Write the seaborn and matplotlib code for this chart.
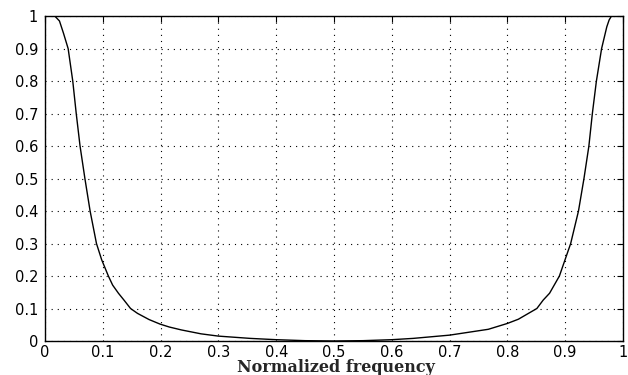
import matplotlib
matplotlib.use('Agg')
import matplotlib.pyplot as plt
import matplotlib.ticker as mticker
import pandas as pd
import seaborn as sns

# 读自参考图的曲线采样点
freq = [0.0, 0.017, 0.025, 0.032, 0.040, 0.048, 0.054, 0.0606, 0.069, 0.078,
        0.089, 0.098, 0.1096, 0.117, 0.127, 0.137, 0.148, 0.16, 0.18, 0.199,
        0.215, 0.236, 0.27, 0.30, 0.355, 0.40, 0.45, 0.5, 0.55, 0.60,
        0.637, 0.70, 0.767, 0.80, 0.819, 0.851, 0.862, 0.873, 0.89, 0.9095,
        0.923, 0.9325, 0.941, 0.947, 0.954, 0.963, 0.972, 0.976, 0.980, 1.0]
response = [1.0, 1.0, 0.985, 0.947, 0.9, 0.8, 0.7, 0.6, 0.5, 0.4,
            0.3, 0.25, 0.2, 0.172, 0.147, 0.125, 0.1, 0.085, 0.066, 0.052,
            0.043, 0.034, 0.022, 0.015, 0.008, 0.004, 0.001, 0.0, 0.001, 0.004,
            0.008, 0.018, 0.036, 0.054, 0.067, 0.10, 0.126, 0.147, 0.2, 0.3,
            0.4, 0.5, 0.6, 0.7, 0.8, 0.9, 0.967, 0.988, 1.0, 1.0]
tick_vals = [0, 0.1, 0.2, 0.3, 0.4, 0.5, 0.6, 0.7, 0.8, 0.9, 1]
x_label = 'Normalized frequency'

sns.set_style('white')
plt.rcParams['font.family'] = ['DejaVu Sans']

df = pd.DataFrame({'freq': freq, 'response': response})

fig = plt.figure(figsize=(6.28, 3.75), dpi=100)
ax = fig.add_axes([0.0717, 0.0907, 0.9203, 0.8663])
sns.lineplot(data=df, x='freq', y='response', color='black', linewidth=1.0,
             ax=ax, sort=False)

ax.set_xlim(0, 1)
ax.set_ylim(0, 1)
ax.set_xticks(tick_vals)
ax.set_yticks(tick_vals)
fmt = mticker.FuncFormatter(lambda v, p: f'{v:g}')
ax.xaxis.set_major_formatter(fmt)
ax.yaxis.set_major_formatter(fmt)
ax.tick_params(direction='in', length=4, width=0.8, top=True, right=True,
               labelsize=10.5, colors='black', pad=3)
ax.tick_params(axis='y', pad=5)
ax.grid(True, linestyle=(0, (1, 4.5)), color='black', linewidth=0.8)
for s in ax.spines.values():
    s.set_color('black')
    s.set_linewidth(1.0)

# 横轴标题：粗体衬线，基线放在图底附近
ax.set_xlabel(x_label, family=['DejaVu Serif'], fontweight='bold',
              fontsize=11.5, va='baseline')
ax.xaxis.set_label_coords(0.504, -0.0955)
ax.set_ylabel('')

fig.savefig('out.png', dpi=100)
